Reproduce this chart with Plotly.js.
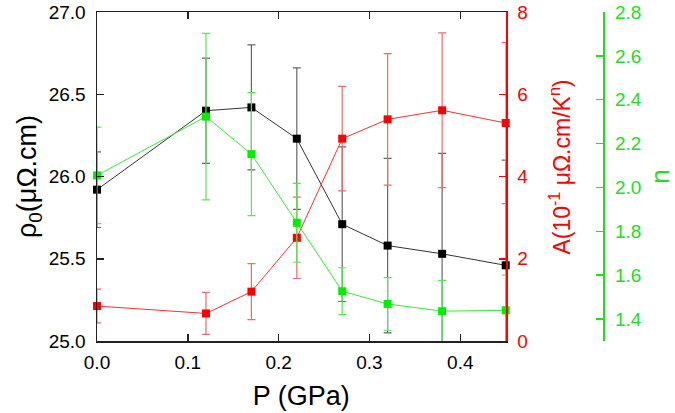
<!DOCTYPE html>
<html>
<head>
<meta charset="utf-8">
<script src="https://cdn.plot.ly/plotly-3.0.1.min.js"></script>
<style>html,body{margin:0;padding:0;background:#fff;}#chart{width:675px;height:413px;}</style>
</head>
<body>
<div id="chart"></div>
<script>
// Pressure (GPa)
const P = [0, 0.12, 0.17, 0.22, 0.27, 0.32, 0.38, 0.45];
// residual resistivity rho0 (μΩ.cm) and error
const rho0 = [25.92, 26.40, 26.42, 26.23, 25.71, 25.58, 25.53, 25.46];
const rho0Err = [0.23, 0.32, 0.38, 0.43, 0.47, 0.53, 0.61, 0.64];
// coefficient A (10^-1 μΩ.cm/K^n) and error
const A = [0.85, 0.67, 1.20, 2.51, 4.92, 5.39, 5.61, 5.30];
const AErr = [0.41, 0.51, 0.68, 0.99, 1.27, 1.60, 1.88, 1.96];
// exponent n and error
const nExp = [2.055, 2.323, 2.152, 1.839, 1.527, 1.469, 1.436, 1.440];
const nErr = [0.22, 0.38, 0.28, 0.18, 0.107, 0.12, 0.14, 0.16];

const FONT = 'Arial, "Liberation Sans", sans-serif';
const GREEN = '#22dd22';
const RED = '#ff0000';

const traces = [
  {
    x: P, y: rho0, type: 'scatter', mode: 'lines+markers', yaxis: 'y',
    line: {color: '#333', width: 1},
    marker: {symbol: 'square', size: 8, color: '#000'},
    error_y: {type: 'data', array: rho0Err, visible: true, color: '#666', thickness: 1.2, width: 4},
    showlegend: false, cliponaxis: false
  },
  {
    x: P, y: A, type: 'scatter', mode: 'lines+markers', yaxis: 'y2',
    line: {color: '#ff3030', width: 1},
    marker: {symbol: 'square', size: 8, color: RED},
    error_y: {type: 'data', array: AErr, visible: true, color: '#f06a6a', thickness: 1.2, width: 4},
    showlegend: false, cliponaxis: false
  },
  {
    x: P, y: nExp, type: 'scatter', mode: 'lines+markers', yaxis: 'y3',
    line: {color: '#33ee33', width: 1},
    marker: {symbol: 'square', size: 8, color: '#00ee00'},
    error_y: {type: 'data', array: nErr, visible: true, color: '#55e855', thickness: 1.2, width: 4},
    showlegend: false, cliponaxis: false
  }
];

const layout = {
  width: 675, height: 413,
  margin: {l: 97, r: 60, t: 12, b: 72},
  paper_bgcolor: '#fff', plot_bgcolor: '#fff',
  font: {family: FONT, size: 19, color: '#000'},
  showlegend: false,
  xaxis: {
    domain: [0, 0.789],
    range: [0, 0.45], tick0: 0, dtick: 0.1, tickformat: '.1f',
    ticks: 'inside', ticklen: 7, tickwidth: 1.5, tickcolor: '#222',
    showline: true, linecolor: '#222', linewidth: 1.5, mirror: 'ticks',
    showgrid: false, zeroline: false,
    ticklabelstandoff: 4,
    title: {text: 'P (GPa)', font: {size: 27}, standoff: 14}
  },
  yaxis: {
    range: [25, 27], tick0: 25, dtick: 0.5, tickformat: '.1f',
    ticks: 'inside', ticklen: 7, tickwidth: 1.5, tickcolor: '#222',
    showline: true, linecolor: '#222', linewidth: 1.5,
    showgrid: false, zeroline: false,
    ticklabelstandoff: 6,
    title: {text: 'ρ<sub>0</sub>(μΩ.cm)', font: {size: 27}, standoff: 4}
  },
  yaxis2: {
    overlaying: 'y', side: 'right', anchor: 'x',
    range: [0, 8], tick0: 0, dtick: 2,
    ticks: 'inside', ticklen: 7, tickwidth: 1.5, tickcolor: RED,
    showline: true, linecolor: RED, linewidth: 1.8,
    showgrid: false, zeroline: false,
    tickfont: {color: RED},
    ticklabelstandoff: 6
  },
  yaxis3: {
    overlaying: 'y', side: 'right', anchor: 'free', position: 0.9774,
    range: [1.3, 2.8], tick0: 1.4, dtick: 0.2, tickformat: '.1f',
    ticks: 'inside', ticklen: 7, tickwidth: 1.5, tickcolor: GREEN,
    showline: true, linecolor: GREEN, linewidth: 1.8,
    showgrid: false, zeroline: false,
    tickfont: {color: GREEN},
    ticklabelstandoff: 6,
    title: {text: 'n', font: {size: 26, color: GREEN}, standoff: 12}
  },
  annotations: [{
    text: 'A(10<sup>-1</sup> μΩ.cm/K<sup>n</sup>)',
    xref: 'paper', yref: 'paper', x: 0.8938, y: 0.530,
    xanchor: 'center', yanchor: 'middle', textangle: -90,
    showarrow: false, font: {size: 23, color: RED}
  }]
};

Plotly.newPlot('chart', traces, layout, {displayModeBar: false, staticPlot: true});
</script>
</body>
</html>
